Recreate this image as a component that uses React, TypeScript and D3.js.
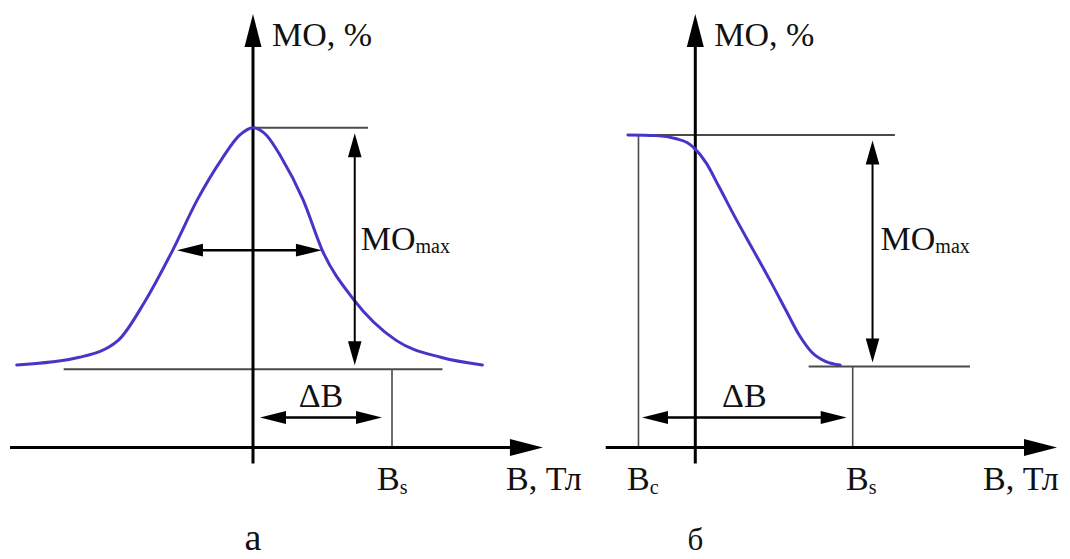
import React from "react";
import * as d3 from "d3";

const WIDTH = 1070;
const HEIGHT = 559;
const FONT = "'Liberation Serif', 'Times New Roman', serif";
const CURVE_COLOR = "#4636c8";
const GUIDE_COLOR = "#4a4a4a";

// Panel а: field (in units of B_s) and magnetoresistance (% of peak)
const fieldA = [-1.7, -1.25, -0.97, -0.78, -0.58, -0.4, -0.22, -0.1, 0, 0.1, 0.2, 0.36, 0.5, 0.72, 1.03, 1.35, 1.65];
const moA = [25.8, 28.2, 33.5, 45.5, 61.5, 77.5, 90.5, 97.5, 100, 97.5, 91, 77.5, 61.5, 46.5, 33.5, 28.2, 25.8];
const levelsA = [100, 24.5]; // MO max level, saturation level
const halfWidthA = [-0.547, 0.496]; // ends of the half-height width arrow
const halfLevelA = 61.7;
const marksA = [1]; // B_s

// Panel б: field (in units of B_s) and magnetoresistance (% of peak)
const fieldB = [-0.428, -0.25, -0.12, -0.05, 0, 0.07, 0.15, 0.26, 0.37, 0.48, 0.58, 0.66, 0.74, 0.83, 0.92];
const moB = [100, 99.8, 98.8, 97.5, 95.5, 91, 83.5, 73, 63, 53, 43.5, 36, 30.5, 27.5, 26.4];
const levelsB = [100, 25.9];
const marksB = [-0.361, 1]; // B_c, B_s

type P = [number, number];

function Head({ tip, dir, len, half, color = "#000" }: { tip: P; dir: P; len: number; half: number; color?: string }) {
  const n = Math.hypot(dir[0], dir[1]);
  const ux = dir[0] / n, uy = dir[1] / n;
  const bx = tip[0] - ux * len, by = tip[1] - uy * len;
  const px = -uy * half, py = ux * half;
  const pts = [tip, [bx + px, by + py], [bx - px, by - py]].map((p) => p.join(",")).join(" ");
  return <polygon points={pts} fill={color} />;
}

function DoubleArrow({ a, b, len, half, sw }: { a: P; b: P; len: number; half: number; sw: number }) {
  const dx = b[0] - a[0], dy = b[1] - a[1];
  const n = Math.hypot(dx, dy);
  const ux = dx / n, uy = dy / n;
  return (
    <g>
      <line x1={a[0] + ux * (len - 2)} y1={a[1] + uy * (len - 2)} x2={b[0] - ux * (len - 2)} y2={b[1] - uy * (len - 2)} stroke="#000" strokeWidth={sw} />
      <Head tip={a} dir={[-dx, -dy]} len={len} half={half} />
      <Head tip={b} dir={[dx, dy]} len={len} half={half} />
    </g>
  );
}

type PanelProps = {
  field: number[];
  mo: number[];
  levels: number[];
  marks: number[];
  x: d3.ScaleLinear<number, number>;
  y: d3.ScaleLinear<number, number>;
  xAxisExtent: P;
  topLine: P;
  bottomLine: P;
  maxArrowAt: number;
  maxLabelDx: number;
  dbFrom: number;
  dbGap: P;
  markLabels: string[];
  markLabelDx: number[];
  unitLabelX: number;
  panelLetter: string;
  letterSize: number;
  letterBaseline: number;
  children?: React.ReactNode;
};

function Panel(p: PanelProps) {
  const { x, y } = p;
  const x0 = x(0);
  const y0 = y(0);
  const pts = p.field.map((b, i) => ({ b, m: p.mo[i] }));
  const path = d3
    .line<{ b: number; m: number }>()
    .x((d) => x(d.b))
    .y((d) => y(d.m))
    .curve(d3.curveMonotoneX)(pts) as string;

  const yTop = y(p.levels[0]);
  const yBot = y(p.levels[1]);
  const axisLeft = x(p.xAxisExtent[0]);
  const axisRight = x(p.xAxisExtent[1]);
  const maxX = x(p.maxArrowAt);
  const bs = x(p.marks[p.marks.length - 1]);
  const dbLeft = x(p.dbFrom) + p.dbGap[0];
  const dbRight = bs - p.dbGap[1];
  const dbY = y0 - 30;

  return (
    <g fontFamily={FONT} fill="#111">
      {/* guide lines */}
      <line x1={x(p.topLine[0])} x2={x(p.topLine[1])} y1={yTop} y2={yTop} stroke={GUIDE_COLOR} strokeWidth={2} />
      <line x1={x(p.bottomLine[0])} x2={x(p.bottomLine[1])} y1={yBot} y2={yBot} stroke={GUIDE_COLOR} strokeWidth={2} />
      {p.marks.map((m, i) => (
        <line
          key={i}
          x1={x(m)}
          x2={x(m)}
          y1={i === p.marks.length - 1 ? yBot : yTop}
          y2={y0}
          stroke={GUIDE_COLOR}
          strokeWidth={1.6}
        />
      ))}

      {/* axes */}
      <line x1={axisLeft} x2={axisRight - 28} y1={y0} y2={y0} stroke="#000" strokeWidth={3} />
      <Head tip={[axisRight, y0]} dir={[1, 0]} len={33} half={8.5} />
      <line x1={x0} x2={x0} y1={y0 + 16} y2={44} stroke="#000" strokeWidth={3} />
      <Head tip={[x0, 14]} dir={[0, -1]} len={33} half={8.5} />

      {/* curve */}
      <path d={path} fill="none" stroke={CURVE_COLOR} strokeWidth={3} strokeLinecap="round" />

      {/* MO max arrow */}
      <DoubleArrow a={[maxX, yTop + 5.5]} b={[maxX, yBot - 4]} len={24} half={6.8} sw={2} />

      {/* ΔB arrow */}
      <DoubleArrow a={[dbLeft, dbY]} b={[dbRight, dbY]} len={26} half={6.4} sw={2.4} />

      {p.children}

      {/* labels */}
      <text x={x0 + 19} y={46} fontSize={34}>МО, %</text>
      <text x={maxX + p.maxLabelDx} y={250} fontSize={34}>
        МО<tspan fontSize={20} dy={3}>max</tspan>
      </text>
      <text x={(dbLeft + dbRight) / 2} y={dbY - 11} fontSize={34} textAnchor="middle">ΔB</text>
      {p.marks.map((m, i) => (
        <text key={i} x={x(m) + p.markLabelDx[i]} y={490} fontSize={34}>
          B<tspan fontSize={20} dy={4}>{p.markLabels[i]}</tspan>
        </text>
      ))}
      <text x={p.unitLabelX} y={490} fontSize={34}>B, Тл</text>
      <text x={x0} y={p.letterBaseline} fontSize={p.letterSize} textAnchor="middle">{p.panelLetter}</text>
    </g>
  );
}

export default function App() {
  const xA = d3.scaleLinear().domain([0, 1]).range([253, 392]);
  const yA = d3.scaleLinear().domain([0, 100]).range([447.5, 127.7]);
  const xB = d3.scaleLinear().domain([0, 1]).range([695.3, 852.7]);
  const yB = d3.scaleLinear().domain([0, 100]).range([447.5, 135]);
  const hwY = yA(halfLevelA);

  return (
    <svg
      width={WIDTH}
      height={HEIGHT}
      viewBox={`0 0 ${WIDTH} ${HEIGHT}`}
      style={{ position: "absolute", left: 0, top: 0, display: "block", background: "#fff" }}
    >
      <rect width={WIDTH} height={HEIGHT} fill="#fff" />
      <Panel
        field={fieldA}
        mo={moA}
        levels={levelsA}
        marks={marksA}
        x={xA}
        y={yA}
        xAxisExtent={[-1.748, 2.086]}
        topLine={[0, 0.827]}
        bottomLine={[-1.362, 1.363]}
        maxArrowAt={0.732}
        maxLabelDx={6}
        dbFrom={0}
        dbGap={[7, 10]}
        markLabels={["s"]}
        markLabelDx={[-15]}
        unitLabelX={506}
        panelLetter="а"
        letterSize={38}
        letterBaseline={550}
      >
        <DoubleArrow a={[xA(halfWidthA[0]), hwY]} b={[xA(halfWidthA[1]), hwY]} len={26} half={6.4} sw={2.4} />
      </Panel>
      <Panel
        field={fieldB}
        mo={moB}
        levels={levelsB}
        marks={marksB}
        x={xB}
        y={yB}
        xAxisExtent={[-0.569, 2.298]}
        topLine={[-0.428, 1.268]}
        bottomLine={[0.72, 1.745]}
        maxArrowAt={1.126}
        maxLabelDx={8}
        dbFrom={marksB[0]}
        dbGap={[3.5, 6]}
        markLabels={["c", "s"]}
        markLabelDx={[-11.5, -6.7]}
        unitLabelX={983}
        panelLetter="б"
        letterSize={31}
        letterBaseline={550}
      />
    </svg>
  );
}
